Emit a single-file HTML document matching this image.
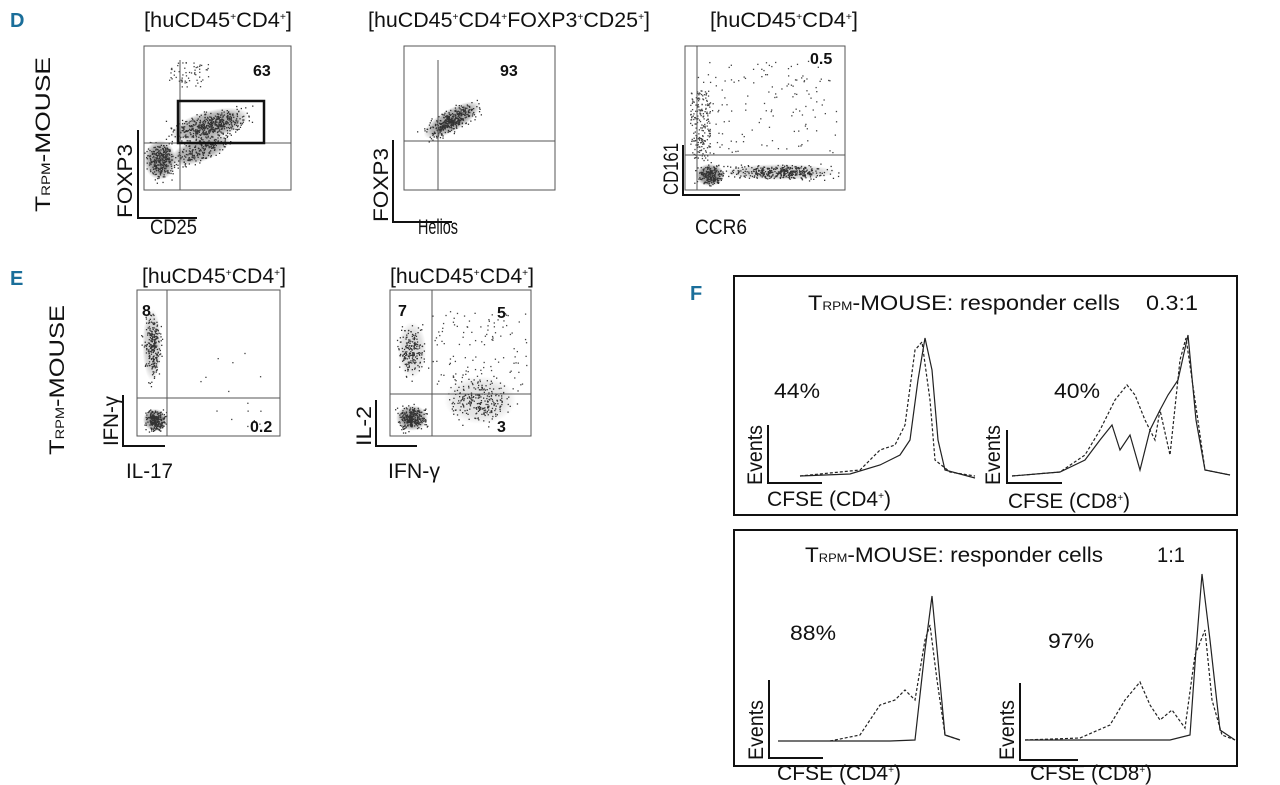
<!DOCTYPE html>
<html><head><meta charset="utf-8"><style>
html,body{margin:0;padding:0;background:#fff;width:1280px;height:785px;overflow:hidden}
svg{display:block}
text{font-family:"Liberation Sans Narrow","Liberation Sans",sans-serif;fill:#111}
.t{font-size:21px}
.b{font-weight:bold;font-family:"Liberation Sans",sans-serif;font-size:16px}
.L{fill:#1a6e9a;font-weight:bold;font-family:"Liberation Sans",sans-serif;font-size:20px}
</style></head><body>
<svg id="s" width="1280" height="785" viewBox="0 0 1280 785" xmlns="http://www.w3.org/2000/svg">
<defs>
<radialGradient id="g1"><stop offset="0" stop-color="#777" stop-opacity=".9"/><stop offset=".7" stop-color="#555" stop-opacity=".6"/><stop offset="1" stop-color="#555" stop-opacity="0"/></radialGradient>
</defs>
<g id="dots"></g>
<g fill="none" stroke="#555" stroke-width="1">
<rect x="144" y="46" width="147" height="144"/><line x1="180" y1="60" x2="180" y2="190"/><line x1="144" y1="143" x2="291" y2="143"/>
<rect x="404" y="46" width="151" height="144"/><line x1="438" y1="60" x2="438" y2="190"/><line x1="404" y1="141" x2="555" y2="141"/>
<rect x="685" y="46" width="160" height="144"/><line x1="697" y1="46" x2="697" y2="190"/><line x1="685" y1="155" x2="845" y2="155"/>
<rect x="137" y="290" width="143" height="146"/><line x1="167" y1="290" x2="167" y2="436"/><line x1="137" y1="398" x2="280" y2="398"/>
<rect x="390" y="290" width="141" height="146"/><line x1="432" y1="290" x2="432" y2="436"/><line x1="390" y1="394" x2="531" y2="394"/>
</g>
<rect x="178" y="101" width="86" height="42" fill="none" stroke="#111" stroke-width="2.5"/>
<g fill="none" stroke="#111" stroke-width="2">
<polyline points="138,130 138,218 197,218"/>
<polyline points="393,140 393,222 452,222"/>
<polyline points="683,145 683,195 740,195"/>
<polyline points="123,395 123,446 165,446"/>
<polyline points="376,400 376,446 417,446"/>
<polyline points="768,425 768,483 822,483"/>
<polyline points="1007,430 1007,483 1062,483"/>
<polyline points="769,680 769,758 823,758" />
<polyline points="1020,683 1020,760 1078,760"/>
</g>
<rect x="734" y="276" width="503" height="239" fill="none" stroke="#111" stroke-width="2"/>
<rect x="734" y="530" width="503" height="236" fill="none" stroke="#111" stroke-width="2"/>
<g fill="none" stroke="#222" stroke-width="1.2">
<polyline points="800,476 850,474 880,465 900,455 910,440 918,380 925,338 932,370 938,440 945,470 960,474 975,478"/>
<polyline stroke-dasharray="3,2" points="800,476 860,470 880,450 895,445 905,425 915,350 922,342 930,400 935,460 950,472 975,476"/>
<polyline points="1012,476 1060,472 1085,460 1100,440 1112,425 1120,450 1130,435 1140,470 1150,430 1160,410 1168,395 1178,380 1188,335 1196,420 1205,470 1230,475"/>
<polyline stroke-dasharray="3,2" points="1012,476 1060,472 1085,455 1100,430 1115,400 1127,385 1135,395 1145,420 1155,440 1160,410 1170,455 1180,360 1186,338 1195,400 1205,470 1230,475"/>
<polyline points="778,741 890,741 915,740 925,650 932,596 938,660 945,735 960,740"/>
<polyline stroke-dasharray="3,2" points="830,741 860,735 880,705 895,700 905,690 915,700 925,640 930,625 937,680 945,735 960,740"/>
<polyline points="1025,740 1170,740 1190,735 1196,650 1202,574 1210,640 1220,730 1235,740"/>
<polyline stroke-dasharray="3,2" points="1025,740 1080,738 1110,725 1125,700 1140,682 1150,705 1160,720 1172,710 1185,728 1195,655 1205,630 1212,700 1222,735 1235,740"/>
</g>
<text class="L" x="10" y="27">D</text>
<text class="L" x="10" y="285">E</text>
<text class="L" x="690" y="300">F</text>
<text class="t" x="144" y="27" textLength="148" lengthAdjust="spacingAndGlyphs">[huCD45<tspan font-size="10" dy="-7">+</tspan><tspan dy="7">CD4</tspan><tspan font-size="10" dy="-7">+</tspan><tspan dy="7">]</tspan></text>
<text class="t" x="368" y="27" textLength="282" lengthAdjust="spacingAndGlyphs">[huCD45<tspan font-size="10" dy="-7">+</tspan><tspan dy="7">CD4</tspan><tspan font-size="10" dy="-7">+</tspan><tspan dy="7">FOXP3</tspan><tspan font-size="10" dy="-7">+</tspan><tspan dy="7">CD25</tspan><tspan font-size="10" dy="-7">+</tspan><tspan dy="7">]</tspan></text>
<text class="t" x="710" y="27" textLength="148" lengthAdjust="spacingAndGlyphs">[huCD45<tspan font-size="10" dy="-7">+</tspan><tspan dy="7">CD4</tspan><tspan font-size="10" dy="-7">+</tspan><tspan dy="7">]</tspan></text>
<text class="t" x="142" y="283" textLength="144" lengthAdjust="spacingAndGlyphs">[huCD45<tspan font-size="10" dy="-7">+</tspan><tspan dy="7">CD4</tspan><tspan font-size="10" dy="-7">+</tspan><tspan dy="7">]</tspan></text>
<text class="t" x="390" y="283" textLength="144" lengthAdjust="spacingAndGlyphs">[huCD45<tspan font-size="10" dy="-7">+</tspan><tspan dy="7">CD4</tspan><tspan font-size="10" dy="-7">+</tspan><tspan dy="7">]</tspan></text>
<text class="b" x="253" y="76">63</text><text class="b" x="500" y="76">93</text><text class="b" x="810" y="64">0.5</text>
<text class="b" x="142" y="316">8</text><text class="b" x="250" y="432">0.2</text>
<text class="b" x="398" y="316">7</text><text class="b" x="497" y="318">5</text><text class="b" x="497" y="432">3</text>
<text class="t" x="150" y="234" textLength="47" lengthAdjust="spacingAndGlyphs">CD25</text>
<text class="t" x="418" y="234" textLength="40" lengthAdjust="spacingAndGlyphs">Helios</text>
<text class="t" x="695" y="234" textLength="52" lengthAdjust="spacingAndGlyphs">CCR6</text>
<text class="t" x="126" y="478" textLength="47" lengthAdjust="spacingAndGlyphs">IL-17</text>
<text class="t" x="388" y="478" textLength="52" lengthAdjust="spacingAndGlyphs">IFN-γ</text>
<text class="t" transform="translate(132,218) rotate(-90)" textLength="74" lengthAdjust="spacingAndGlyphs">FOXP3</text>
<text class="t" transform="translate(388,222) rotate(-90)" textLength="74" lengthAdjust="spacingAndGlyphs">FOXP3</text>
<text class="t" transform="translate(678,195) rotate(-90)" textLength="52" lengthAdjust="spacingAndGlyphs">CD161</text>
<text class="t" transform="translate(118,446) rotate(-90)" textLength="50" lengthAdjust="spacingAndGlyphs">IFN-γ</text>
<text class="t" transform="translate(371,446) rotate(-90)" textLength="40" lengthAdjust="spacingAndGlyphs">IL-2</text>
<text class="t" transform="translate(50,212) rotate(-90)" textLength="155" lengthAdjust="spacingAndGlyphs">T<tspan font-size="12">RPM</tspan>-MOUSE</text>
<text class="t" transform="translate(64,455) rotate(-90)" textLength="150" lengthAdjust="spacingAndGlyphs">T<tspan font-size="12">RPM</tspan>-MOUSE</text>
<text class="t" x="808" y="310" textLength="312" lengthAdjust="spacingAndGlyphs">T<tspan font-size="12">RPM</tspan>-MOUSE: responder cells</text>
<text class="t" x="1146" y="310" textLength="52" lengthAdjust="spacingAndGlyphs">0.3:1</text>
<text class="t" x="805" y="562" textLength="298" lengthAdjust="spacingAndGlyphs">T<tspan font-size="12">RPM</tspan>-MOUSE: responder cells</text>
<text class="t" x="1157" y="562" textLength="28" lengthAdjust="spacingAndGlyphs">1:1</text>
<text class="t" x="774" y="398" textLength="46" lengthAdjust="spacingAndGlyphs">44%</text>
<text class="t" x="1054" y="398" textLength="46" lengthAdjust="spacingAndGlyphs">40%</text>
<text class="t" x="790" y="640" textLength="46" lengthAdjust="spacingAndGlyphs">88%</text>
<text class="t" x="1048" y="648" textLength="46" lengthAdjust="spacingAndGlyphs">97%</text>
<text class="t" x="767" y="506" textLength="124" lengthAdjust="spacingAndGlyphs">CFSE (CD4<tspan font-size="10" dy="-7">+</tspan><tspan dy="7">)</tspan></text>
<text class="t" x="1008" y="508" textLength="122" lengthAdjust="spacingAndGlyphs">CFSE (CD8<tspan font-size="10" dy="-7">+</tspan><tspan dy="7">)</tspan></text>
<text class="t" x="777" y="780" textLength="124" lengthAdjust="spacingAndGlyphs">CFSE (CD4<tspan font-size="10" dy="-7">+</tspan><tspan dy="7">)</tspan></text>
<text class="t" x="1030" y="780" textLength="122" lengthAdjust="spacingAndGlyphs">CFSE (CD8<tspan font-size="10" dy="-7">+</tspan><tspan dy="7">)</tspan></text>
<text class="t" transform="translate(762,485) rotate(-90)" textLength="60" lengthAdjust="spacingAndGlyphs">Events</text>
<text class="t" transform="translate(1000,485) rotate(-90)" textLength="60" lengthAdjust="spacingAndGlyphs">Events</text>
<text class="t" transform="translate(763,760) rotate(-90)" textLength="60" lengthAdjust="spacingAndGlyphs">Events</text>
<text class="t" transform="translate(1014,760) rotate(-90)" textLength="60" lengthAdjust="spacingAndGlyphs">Events</text>
</svg>
<script>
(function(){
var s=7;function r(){s=(s*16807)%2147483647;return s/2147483647;}
function g(){return (r()+r()+r()-1.5)/1.5;}
var ns="http://www.w3.org/2000/svg",G=document.getElementById('dots');
function blob(cx,cy,rx,ry,n,rot,dark){
 var e=document.createElementNS(ns,'ellipse');e.setAttribute('cx',cx);e.setAttribute('cy',cy);e.setAttribute('rx',rx*0.8);e.setAttribute('ry',ry*0.8);e.setAttribute('fill','url(#g1)');e.setAttribute('opacity',dark||0.7);e.setAttribute('transform','rotate('+rot+' '+cx+' '+cy+')');G.appendChild(e);
 var c=Math.cos(rot*Math.PI/180),sn=Math.sin(rot*Math.PI/180);
 for(var i=0;i<n;i++){var a=g()*rx,b=g()*ry;var d=document.createElementNS(ns,'rect');d.setAttribute('x',(cx+a*c-b*sn).toFixed(1));d.setAttribute('y',(cy+a*sn+b*c).toFixed(1));d.setAttribute('width',1.3);d.setAttribute('height',1.3);d.setAttribute('fill','#333');G.appendChild(d);}
}
function scat(x0,y0,w,h,n){for(var i=0;i<n;i++){var d=document.createElementNS(ns,'rect');d.setAttribute('x',x0+r()*w);d.setAttribute('y',y0+r()*h);d.setAttribute('width',1.3);d.setAttribute('height',1.3);d.setAttribute('fill','#444');G.appendChild(d);}}
blob(210,125,50,18,500,-15);blob(160,160,20,25,300,0,0.8);blob(200,150,40,15,200,-20);scat(168,62,40,25,60);
blob(452,120,40,14,400,-30,0.75);
blob(710,175,18,14,200,0,0.9);blob(780,172,70,10,400,0,0.4);scat(697,60,140,95,150);scat(690,90,20,70,200);
blob(155,420,15,14,250,0,0.8);blob(152,345,12,45,250,0,0.4);scat(200,340,70,90,15);
blob(412,418,20,16,300,0,0.75);blob(480,400,45,30,250,0,0.25);blob(412,350,18,35,200,0,0.3);scat(432,310,95,80,120);
})();
</script>
</body></html>
